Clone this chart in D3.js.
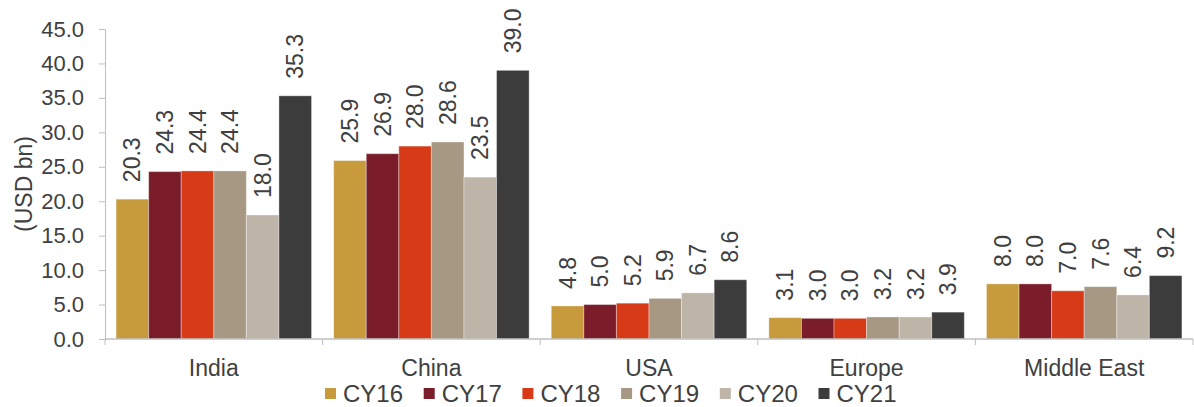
<!DOCTYPE html>
<html>
<head>
<meta charset="utf-8">
<script src="https://cdn.jsdelivr.net/npm/d3@7"></script>
<style>
  html, body { margin: 0; padding: 0; background: #fff; }
  svg { display: block; font-family: "Liberation Sans", Arial, sans-serif; }
</style>
</head>
<body>
<svg id="chart" width="1194" height="407"></svg>
<script>
// Regions on the category axis
const regions = ["India", "China", "USA", "Europe", "Middle East"];
// Calendar years shown as series
const years = ["CY16", "CY17", "CY18", "CY19", "CY20", "CY21"];
// Values in USD bn, one array per year, in region order
const cy16 = [20.3, 25.9, 4.8, 3.1, 8.0];
const cy17 = [24.3, 26.9, 5.0, 3.0, 8.0];
const cy18 = [24.4, 28.0, 5.2, 3.0, 7.0];
const cy19 = [24.4, 28.6, 5.9, 3.2, 7.6];
const cy20 = [18.0, 23.5, 6.7, 3.2, 6.4];
const cy21 = [35.3, 39.0, 8.6, 3.9, 9.2];
const yTicks = [0, 5, 10, 15, 20, 25, 30, 35, 40, 45];
const colors = ["#C79A3B", "#7A1C2A", "#D63A17", "#A79883", "#BEB5A8", "#3C3C3C"];

const seriesValues = [cy16, cy17, cy18, cy19, cy20, cy21];
const rows = regions.map((r, i) => ({
  region: r,
  values: years.map((y, j) => ({ year: y, value: seriesValues[j][i] }))
}));

const svg = d3.select("#chart");
const textColor = "#404040";
const axisColor = "#BFBFBF";
const plot = { left: 105, right: 1193, top: 29, bottom: 339 };

const x0 = d3.scaleBand().domain(regions).range([plot.left, plot.right]).padding(0);
const x1 = d3.scaleBand().domain(years).range([0, x0.bandwidth()])
  .paddingInner(0).paddingOuter(0.34);
const y = d3.scaleLinear().domain([0, 45]).range([plot.bottom, plot.top]);

// Bars
const groups = svg.append("g").selectAll("g").data(rows).join("g")
  .attr("transform", d => `translate(${x0(d.region)},0)`);

groups.selectAll("rect").data(d => d.values).join("rect")
  .attr("x", d => x1(d.year))
  .attr("y", d => y(d.value))
  .attr("width", x1.bandwidth())
  .attr("height", d => y(0) - y(d.value))
  .attr("fill", (d, i) => colors[i])
  .attr("stroke", "#ffffff")
  .attr("stroke-opacity", 0.35)
  .attr("stroke-width", 1);

// Value labels, rotated, above each bar
groups.selectAll("text").data(d => d.values).join("text")
  .attr("transform", d => `translate(${x1(d.year) + x1.bandwidth() / 2},${y(d.value) - 17}) rotate(-90)`)
  .attr("dy", "0.35em")
  .attr("text-anchor", "start")
  .attr("fill", textColor)
  .style("font-size", "23px")
  .text(d => d.value.toFixed(1));

// Y axis
const yAxis = svg.append("g")
  .attr("transform", `translate(${plot.left},0)`)
  .call(d3.axisLeft(y).tickValues(yTicks).tickFormat(d3.format(".1f")).tickSize(6).tickPadding(15));
yAxis.select(".domain").attr("stroke", axisColor);
yAxis.selectAll(".tick line").attr("stroke", axisColor);
yAxis.selectAll(".tick text").attr("fill", textColor)
  .style("font-size", "22px").style("font-family", "'Liberation Sans', Arial, sans-serif");

// X axis with ticks at region boundaries
const xAxisG = svg.append("g").attr("transform", `translate(0,${plot.bottom})`);
xAxisG.append("line").attr("x1", plot.left).attr("x2", plot.right).attr("y1", 0).attr("y2", 0)
  .attr("stroke", axisColor).attr("stroke-width", 1.5);
const bounds = regions.map(r => x0(r)).concat([x0(regions[regions.length - 1]) + x0.bandwidth()]);
xAxisG.selectAll("line.tk").data(bounds).join("line").attr("class", "tk")
  .attr("x1", d => d).attr("x2", d => d).attr("y1", 0).attr("y2", 6)
  .attr("stroke", axisColor);
xAxisG.selectAll("text").data(regions).join("text")
  .attr("x", d => x0(d) + x0.bandwidth() / 2)
  .attr("y", 37)
  .attr("text-anchor", "middle")
  .attr("fill", textColor)
  .style("font-size", "23px")
  .text(d => d);

// Y axis title
svg.append("text")
  .attr("transform", `translate(32,184) rotate(-90)`)
  .attr("text-anchor", "middle")
  .attr("fill", textColor)
  .style("font-size", "23px")
  .text("(USD bn)");

// Legend
const legend = svg.append("g").attr("transform", "translate(325,388)");
const items = legend.selectAll("g").data(years).join("g")
  .attr("transform", (d, i) => `translate(${i * 98.7},0)`);
items.append("rect").attr("width", 11).attr("height", 11)
  .attr("fill", (d, i) => colors[i]);
items.append("text").attr("x", 18).attr("y", 14)
  .attr("fill", textColor)
  .style("font-size", "24px")
  .text(d => d);
</script>
</body>
</html>
